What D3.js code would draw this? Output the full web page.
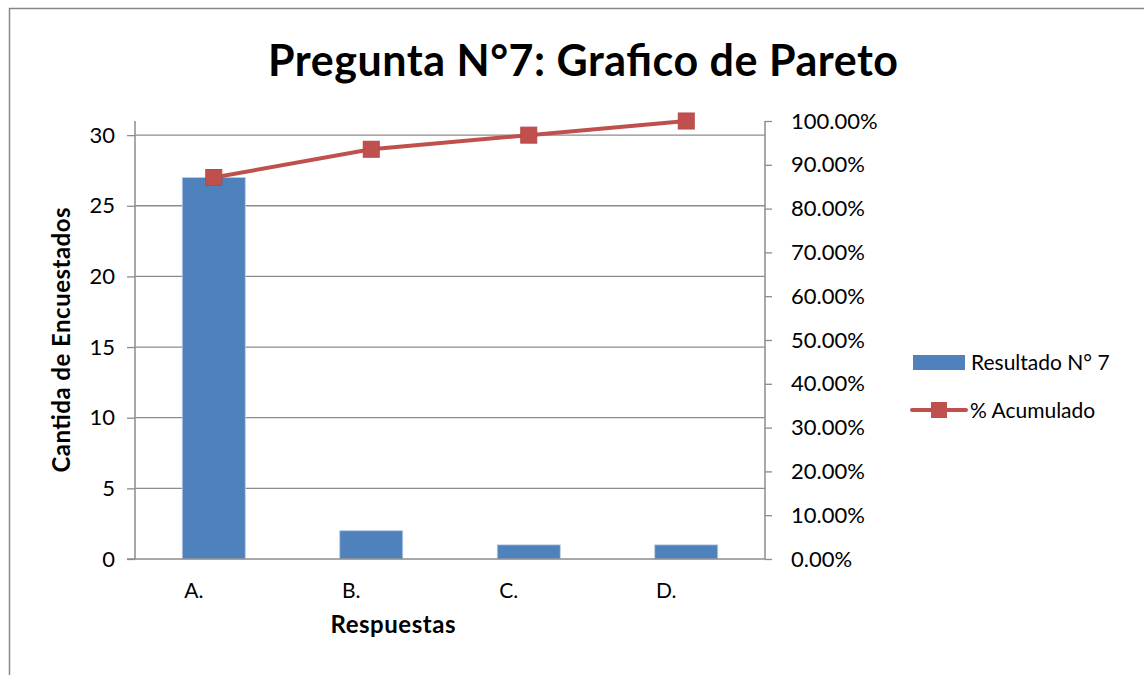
<!DOCTYPE html>
<html>
<head>
<meta charset="utf-8">
<script src="https://cdn.jsdelivr.net/npm/d3@7"></script>
<style>
  body { margin: 0; background: #fff; }
  text { font-family: Lato, "Open Sans", sans-serif; fill: #000; }
</style>
</head>
<body>
<div id="chart"></div>
<script>
// data
var categories = ["A.", "B.", "C.", "D."];
var respuestas = [27, 2, 1, 1];
var acumulado = [0.871, 0.9355, 0.9677, 1.0];
var leftTicks = [0, 5, 10, 15, 20, 25, 30];
var rightTicks = [0, 0.1, 0.2, 0.3, 0.4, 0.5, 0.6, 0.7, 0.8, 0.9, 1.0];

var W = 1144, H = 675;
var plot = { left: 135, right: 765, top: 121, bottom: 559 };

var svg = d3.select("#chart").append("svg")
    .attr("width", W)
    .attr("height", H);

// chart frame (only top + left visible in the crop)
svg.append("path")
    .attr("d", "M9.5," + H + " V8.5 H" + W)
    .attr("fill", "none")
    .attr("stroke", "#878787")
    .attr("stroke-width", 1.5);

var x = d3.scaleBand()
    .domain(categories)
    .range([plot.left, plot.right])
    .paddingInner(0.6)
    .paddingOuter(0.3);

var yLeft = d3.scaleLinear().domain([0, 31]).range([plot.bottom, plot.top]);
var yRight = d3.scaleLinear().domain([0, 1]).range([plot.bottom, plot.top]);

// gridlines
svg.append("g").selectAll("line")
    .data(leftTicks.slice(1))
    .enter().append("line")
    .attr("x1", plot.left).attr("x2", plot.right)
    .attr("y1", function(d) { return yLeft(d); })
    .attr("y2", function(d) { return yLeft(d); })
    .attr("stroke", "#8c8c8c")
    .attr("stroke-width", 1.3);

// bars
svg.append("g").selectAll("rect")
    .data(respuestas)
    .enter().append("rect")
    .attr("x", function(d, i) { return x(categories[i]); })
    .attr("y", function(d) { return yLeft(d); })
    .attr("width", x.bandwidth())
    .attr("height", function(d) { return plot.bottom - yLeft(d); })
    .attr("fill", "#4f81bd")
    .attr("stroke", "#b9cde5")
    .attr("stroke-width", 0.8);

// left axis
var leftAxis = d3.axisLeft(yLeft).tickValues(leftTicks).tickSize(8).tickPadding(12);
var gl = svg.append("g").attr("transform", "translate(" + plot.left + ",0)").call(leftAxis);
gl.select(".domain").attr("stroke", "#8c8c8c").attr("stroke-width", 1.5).attr("d", "M0," + plot.top + "V" + plot.bottom);
gl.selectAll(".tick line").attr("stroke", "#8c8c8c").attr("stroke-width", 1.3);
gl.selectAll(".tick text").style("font-size", "22px").attr("fill", "#000");

// right axis
var rightAxis = d3.axisRight(yRight).tickValues(rightTicks).tickSize(7).tickPadding(19)
    .tickFormat(function(d) { return (d * 100).toFixed(2) + "%"; });
var gr = svg.append("g").attr("transform", "translate(" + plot.right + ",0)").call(rightAxis);
gr.select(".domain").attr("stroke", "#8c8c8c").attr("stroke-width", 1.5).attr("d", "M0," + plot.top + "V" + plot.bottom);
gr.selectAll(".tick line").attr("stroke", "#8c8c8c").attr("stroke-width", 1.3);
gr.selectAll(".tick text").style("font-size", "22px").attr("fill", "#000");

// bottom axis
var bottomAxis = d3.axisBottom(x).tickSize(0).tickPadding(24);
var gb = svg.append("g").attr("transform", "translate(0," + plot.bottom + ")").call(bottomAxis);
gb.select(".domain").attr("stroke", "#8c8c8c").attr("stroke-width", 1.5).attr("d", "M" + (plot.left - 8) + ",0H" + plot.right);
gb.selectAll(".tick text").style("font-size", "21px").attr("fill", "#000").attr("dx", "-0.95em");

// pareto line
var line = d3.line()
    .x(function(d, i) { return x(categories[i]) + x.bandwidth() / 2; })
    .y(function(d) { return yRight(d); });

svg.append("path")
    .datum(acumulado)
    .attr("d", line)
    .attr("fill", "none")
    .attr("stroke", "#c0504d")
    .attr("stroke-width", 4);

svg.append("g").selectAll("rect")
    .data(acumulado)
    .enter().append("rect")
    .attr("x", function(d, i) { return x(categories[i]) + x.bandwidth() / 2 - 8; })
    .attr("y", function(d) { return yRight(d) - 8; })
    .attr("width", 16).attr("height", 16)
    .attr("fill", "#c0504d")
    .attr("stroke", "#b8474a")
    .attr("stroke-width", 1);

// title
svg.append("text")
    .attr("x", 583).attr("y", 76)
    .attr("text-anchor", "middle")
    .attr("textLength", 630)
    .style("font-size", "43px")
    .style("font-weight", "bold")
    .text("Pregunta N°7: Grafico de Pareto");

// axis titles
svg.append("text")
    .attr("transform", "translate(70,340) rotate(-90)")
    .attr("text-anchor", "middle")
    .attr("textLength", 265)
    .style("font-size", "24px")
    .style("font-weight", "bold")
    .text("Cantida de Encuestados");

svg.append("text")
    .attr("x", 393).attr("y", 633)
    .attr("text-anchor", "middle")
    .attr("textLength", 125)
    .style("font-size", "24px")
    .style("font-weight", "bold")
    .text("Respuestas");

// legend
var legend = svg.append("g");
legend.append("rect")
    .attr("x", 913).attr("y", 355).attr("width", 52).attr("height", 15)
    .attr("fill", "#4f81bd");
legend.append("text")
    .attr("x", 971).attr("y", 370)
    .style("font-size", "21px")
    .text("Resultado N° 7");

legend.append("line")
    .attr("x1", 912).attr("x2", 966).attr("y1", 410).attr("y2", 410)
    .attr("stroke", "#c0504d").attr("stroke-width", 4).attr("stroke-linecap", "round");
legend.append("rect")
    .attr("x", 931).attr("y", 402).attr("width", 16).attr("height", 16)
    .attr("fill", "#c0504d");
legend.append("text")
    .attr("x", 970).attr("y", 418)
    .style("font-size", "21px")
    .text("% Acumulado");
</script>
</body>
</html>
